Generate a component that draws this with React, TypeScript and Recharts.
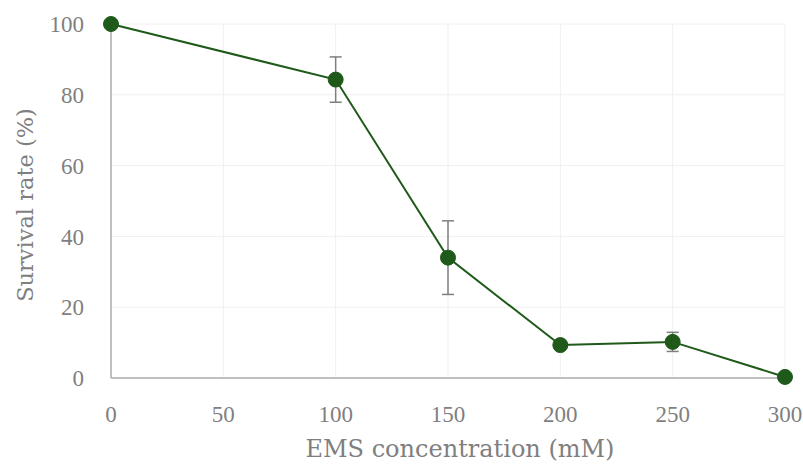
import { LineChart, Line, XAxis, YAxis, CartesianGrid, ErrorBar, Label } from "recharts";

const concentrations = [0, 100, 150, 200, 250, 300];
const survival = [100, 84.3, 34.0, 9.3, 10.2, 0.3];
const survivalErr = [0, 6.4, 10.4, 0, 2.7, 0];
const xTicks = [0, 50, 100, 150, 200, 250, 300];
const yTicks = [0, 20, 40, 60, 80, 100];

const data = concentrations.map((c, i) => ({ conc: c, rate: survival[i], err: survivalErr[i] }));

const FONT = "'Liberation Serif', 'DejaVu Serif', serif";
const TITLE_FONT = "'DejaVu Serif', 'Liberation Serif', serif";
const GREEN = "#1f5a1a";
const GREY_TEXT = "#7f7f7f";

export default function App() {
  return (
    <div style={{ position: "absolute", left: 0, top: 0, width: 803, height: 466, background: "#fff" }}>
      <LineChart width={803} height={466} data={data} margin={{ top: 24, right: 18, bottom: 0, left: 51 }}>
        <CartesianGrid stroke="#f0f0f0" strokeWidth={1} />
        <XAxis
          dataKey="conc"
          type="number"
          domain={[0, 300]}
          ticks={xTicks}
          height={88}
          tickLine={false}
          tickSize={0}
          tickMargin={28}
          axisLine={{ stroke: "#bfbfbf", strokeWidth: 2 }}
          tick={{ fill: GREY_TEXT, fontSize: 23, fontFamily: FONT }}
        >
          <Label
            content={(props: any) => {
              const vb = props.viewBox;
              return (
                <text x={vb.x + vb.width / 2 + 12} y={457} textAnchor="middle" fill={GREY_TEXT} fontSize={24} fontFamily={TITLE_FONT}>
                  EMS concentration (mM)
                </text>
              );
            }}
          />
        </XAxis>
        <YAxis
          type="number"
          domain={[0, 100]}
          ticks={yTicks}
          width={60}
          tickLine={false}
          tickSize={0}
          tickMargin={27}
          axisLine={{ stroke: "#bfbfbf", strokeWidth: 2 }}
          tick={{ fill: GREY_TEXT, fontSize: 23, fontFamily: FONT }}
        >
          <Label
            content={() => (
              <text
                x={25}
                y={205}
                transform="rotate(-90 25 205)"
                textAnchor="middle"
                dominantBaseline="central"
                fill={GREY_TEXT}
                fontSize={22.5}
                fontFamily={TITLE_FONT}
              >
                Survival rate (%)
              </text>
            )}
          />
        </YAxis>
        <Line
          dataKey="rate"
          stroke={GREEN}
          strokeWidth={2}
          dot={{ r: 7.5, fill: GREEN, stroke: GREEN, strokeWidth: 1 }}
          activeDot={false}
          isAnimationActive={false}
        >
          <ErrorBar dataKey="err" direction="y" width={6} stroke="#7f7f7f" strokeWidth={1.5} />
        </Line>
      </LineChart>
    </div>
  );
}
